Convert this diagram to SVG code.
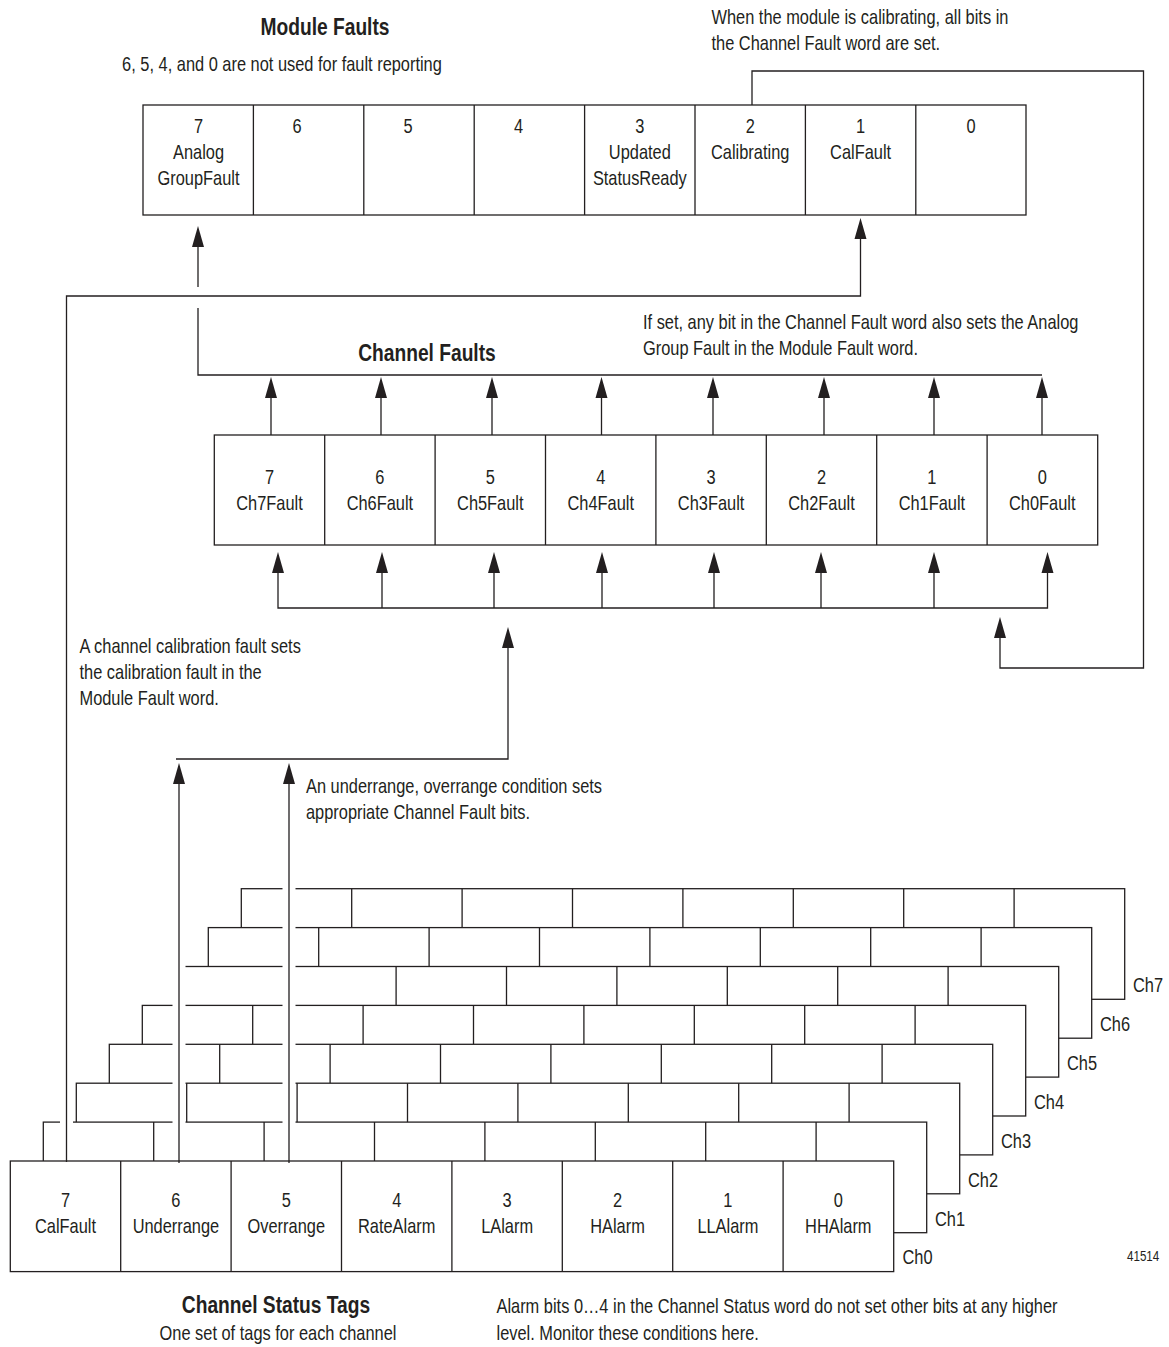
<svg xmlns="http://www.w3.org/2000/svg" xmlns:xlink="http://www.w3.org/1999/xlink" width="1169" height="1347" viewBox="0 0 1169 1347">
<style>
text{font-family:"Liberation Sans",Arial,sans-serif;font-size:20.5px;fill:#231f20}
.c{text-anchor:middle}
.b{font-weight:bold;font-size:24px}
.s{font-size:14.5px}
.box{fill:#fff;stroke:#231f20;stroke-width:1.3}
.dv{stroke:#231f20;stroke-width:1.3}
.ln{fill:none;stroke:#231f20;stroke-width:1.3}
.halo{stroke:#fff;stroke-width:13}
</style>
<defs>
<path id="ah" d="M0,0 L-6,21 L6,21 Z" fill="#231f20"/>
</defs>
<rect width="1169" height="1347" fill="#fff"/>

<!-- Module Faults -->
<g id="module-faults">
<rect class="box" x="143" y="105" width="883" height="110"/>
<path class="dv" d="M253.4,105V215M363.8,105V215M474.2,105V215M584.6,105V215M695,105V215M805.4,105V215M915.8,105V215"/>
<g transform="scale(0.8,1)">
<text class="b c" x="406.25" y="35">Module Faults</text>
<text class="c" x="352.5" y="71">6, 5, 4, and 0 are not used for fault reporting</text>
<text class="c" x="248.125" y="133">7</text><text class="c" x="248.125" y="159">Analog</text><text class="c" x="248.125" y="185">GroupFault</text>
<text class="c" x="371.25" y="133">6</text>
<text class="c" x="510" y="133">5</text>
<text class="c" x="648.125" y="133">4</text>
<text class="c" x="799.75" y="133">3</text><text class="c" x="799.75" y="159">Updated</text><text class="c" x="799.75" y="185">StatusReady</text>
<text class="c" x="937.75" y="133">2</text><text class="c" x="937.75" y="159">Calibrating</text>
<text class="c" x="1075.75" y="133">1</text><text class="c" x="1075.75" y="159">CalFault</text>
<text class="c" x="1213.75" y="133">0</text>
</g>
</g>

<g id="note-calibrating" transform="scale(0.8,1)">
<text x="889.375" y="24">When the module is calibrating, all bits in</text>
<text x="889.375" y="50">the Channel Fault word are set.</text>
</g>

<!-- Channel Faults -->
<g id="channel-faults">
<rect class="box" x="214.3" y="435" width="883.4" height="110"/>
<path class="dv" d="M324.7,435V545M435.1,435V545M545.5,435V545M655.9,435V545M766.3,435V545M876.7,435V545M987.1,435V545"/>
<g transform="scale(0.8,1)">
<text class="b c" x="533.75" y="361">Channel Faults</text>
<text class="c" x="336.875" y="484">7</text><text class="c" x="336.875" y="510">Ch7Fault</text>
<text class="c" x="474.875" y="484">6</text><text class="c" x="474.875" y="510">Ch6Fault</text>
<text class="c" x="612.875" y="484">5</text><text class="c" x="612.875" y="510">Ch5Fault</text>
<text class="c" x="750.875" y="484">4</text><text class="c" x="750.875" y="510">Ch4Fault</text>
<text class="c" x="888.875" y="484">3</text><text class="c" x="888.875" y="510">Ch3Fault</text>
<text class="c" x="1026.875" y="484">2</text><text class="c" x="1026.875" y="510">Ch2Fault</text>
<text class="c" x="1164.875" y="484">1</text><text class="c" x="1164.875" y="510">Ch1Fault</text>
<text class="c" x="1302.875" y="484">0</text><text class="c" x="1302.875" y="510">Ch0Fault</text>
</g>
</g>

<g id="note-analog" transform="scale(0.8,1)">
<text x="803.75" y="329">If set, any bit in the Channel Fault word also sets the Analog</text>
<text x="803.75" y="355">Group Fault in the Module Fault word.</text>
</g>

<g id="note-calfault" transform="scale(0.8,1)">
<text x="99.375" y="653">A channel calibration fault sets</text>
<text x="99.375" y="679">the calibration fault in the</text>
<text x="99.375" y="705">Module Fault word.</text>
</g>

<g id="note-range" transform="scale(0.8,1)">
<text x="382.5" y="793">An underrange, overrange condition sets</text>
<text x="382.5" y="819">appropriate Channel Fault bits.</text>
</g>

<!-- Channel Status stacked layers (Ch7 back to Ch0 front) -->
<g id="channel-status">
<g id="ch7"><rect class="box" x="241.3" y="888.7" width="883.4" height="110.6"/><path class="dv" d="M351.7,888.7v110.6M462.1,888.7v110.6M572.5,888.7v110.6M682.9,888.7v110.6M793.3,888.7v110.6M903.7,888.7v110.6M1014.1,888.7v110.6"/><text transform="scale(0.8,1)" x="1416.25" y="992">Ch7</text></g>
<g id="ch6"><rect class="box" x="208.3" y="927.6" width="883.4" height="110.6"/><path class="dv" d="M318.7,927.6v110.6M429.1,927.6v110.6M539.5,927.6v110.6M649.9,927.6v110.6M760.3,927.6v110.6M870.7,927.6v110.6M981.1,927.6v110.6"/><text transform="scale(0.8,1)" x="1375" y="1031">Ch6</text></g>
<g id="ch5"><rect class="box" x="175.3" y="966.5" width="883.4" height="110.6"/><path class="dv" d="M285.7,966.5v110.6M396.1,966.5v110.6M506.5,966.5v110.6M616.9,966.5v110.6M727.3,966.5v110.6M837.7,966.5v110.6M948.1,966.5v110.6"/><text transform="scale(0.8,1)" x="1333.75" y="1070">Ch5</text></g>
<g id="ch4"><rect class="box" x="142.3" y="1005.4" width="883.4" height="110.6"/><path class="dv" d="M252.7,1005.4v110.6M363.1,1005.4v110.6M473.5,1005.4v110.6M583.9,1005.4v110.6M694.3,1005.4v110.6M804.7,1005.4v110.6M915.1,1005.4v110.6"/><text transform="scale(0.8,1)" x="1292.5" y="1109">Ch4</text></g>
<g id="ch3"><rect class="box" x="109.3" y="1044.3" width="883.4" height="110.6"/><path class="dv" d="M219.7,1044.3v110.6M330.1,1044.3v110.6M440.5,1044.3v110.6M550.9,1044.3v110.6M661.3,1044.3v110.6M771.7,1044.3v110.6M882.1,1044.3v110.6"/><text transform="scale(0.8,1)" x="1251.25" y="1148">Ch3</text></g>
<g id="ch2"><rect class="box" x="76.3" y="1083.2" width="883.4" height="110.6"/><path class="dv" d="M186.7,1083.2v110.6M297.1,1083.2v110.6M407.5,1083.2v110.6M517.9,1083.2v110.6M628.3,1083.2v110.6M738.7,1083.2v110.6M849.1,1083.2v110.6"/><text transform="scale(0.8,1)" x="1210" y="1187">Ch2</text></g>
<g id="ch1"><rect class="box" x="43.3" y="1122.1" width="883.4" height="110.6"/><path class="dv" d="M153.7,1122.1v110.6M264.1,1122.1v110.6M374.5,1122.1v110.6M484.9,1122.1v110.6M595.3,1122.1v110.6M705.7,1122.1v110.6M816.1,1122.1v110.6"/><text transform="scale(0.8,1)" x="1168.75" y="1226">Ch1</text></g>
<!-- connector halos crossing the back layers -->
<path class="halo" d="M66.5,880V1157M179,880V1157M289,880V1157"/>
<g id="ch0"><rect class="box" x="10.3" y="1161" width="883.4" height="110.6"/><path class="dv" d="M120.7,1161v110.6M231.1,1161v110.6M341.5,1161v110.6M451.9,1161v110.6M562.3,1161v110.6M672.7,1161v110.6M783.1,1161v110.6"/>
<g transform="scale(0.8,1)">
<text x="1128.125" y="1264">Ch0</text>
<text class="c" x="81.875" y="1207">7</text><text class="c" x="81.875" y="1233">CalFault</text>
<text class="c" x="219.875" y="1207">6</text><text class="c" x="219.875" y="1233">Underrange</text>
<text class="c" x="357.875" y="1207">5</text><text class="c" x="357.875" y="1233">Overrange</text>
<text class="c" x="495.875" y="1207">4</text><text class="c" x="495.875" y="1233">RateAlarm</text>
<text class="c" x="633.875" y="1207">3</text><text class="c" x="633.875" y="1233">LAlarm</text>
<text class="c" x="771.875" y="1207">2</text><text class="c" x="771.875" y="1233">HAlarm</text>
<text class="c" x="909.875" y="1207">1</text><text class="c" x="909.875" y="1233">LLAlarm</text>
<text class="c" x="1047.875" y="1207">0</text><text class="c" x="1047.875" y="1233">HHAlarm</text>
</g>
</g>
<g transform="scale(0.8,1)">
<text class="b c" x="345" y="1313">Channel Status Tags</text>
<text class="c" x="347.5" y="1340">One set of tags for each channel</text>
</g>
</g>

<g id="note-alarm" transform="scale(0.8,1)">
<text x="620.625" y="1313">Alarm bits 0…4 in the Channel Status word do not set other bits at any higher</text>
<text x="620.625" y="1340">level. Monitor these conditions here.</text>
</g>

<g id="figure-number" transform="scale(0.8,1)"><text class="s" x="1408.75" y="1261">41514</text></g>

<!-- Connectors -->
<g id="connectors">
<polyline class="ln" points="752,105 752,71 1143.5,71 1143.5,668 1000,668 1000,636"/>
<use xlink:href="#ah" x="1000" y="617"/>
<polyline class="ln" points="66.5,1162 66.5,296 860.5,296 860.5,237"/>
<use xlink:href="#ah" x="860.5" y="218"/>
<path class="ln" d="M198,245V287"/>
<polyline class="ln" points="198,308 198,375 1042,375"/>
<use xlink:href="#ah" x="198" y="226"/>
<path class="ln" d="M271,396V435M381,396V435M492,396V435M601.5,396V435M713,396V435M824,396V435M934,396V435M1042,396V435"/>
<use xlink:href="#ah" x="271" y="377"/><use xlink:href="#ah" x="381" y="377"/><use xlink:href="#ah" x="492" y="377"/><use xlink:href="#ah" x="601.5" y="377"/><use xlink:href="#ah" x="713" y="377"/><use xlink:href="#ah" x="824" y="377"/><use xlink:href="#ah" x="934" y="377"/><use xlink:href="#ah" x="1042" y="377"/>
<polyline class="ln" points="278,571 278,608 1047.5,608 1047.5,571"/>
<path class="ln" d="M382,571V608M494,571V608M602,571V608M714,571V608M821,571V608M934,571V608"/>
<use xlink:href="#ah" x="278" y="552"/><use xlink:href="#ah" x="382" y="552"/><use xlink:href="#ah" x="494" y="552"/><use xlink:href="#ah" x="602" y="552"/><use xlink:href="#ah" x="714" y="552"/><use xlink:href="#ah" x="821" y="552"/><use xlink:href="#ah" x="934" y="552"/><use xlink:href="#ah" x="1047.5" y="552"/>
<polyline class="ln" points="176,759 508,759 508,646"/>
<use xlink:href="#ah" x="508" y="627"/>
<path class="ln" d="M179,782V1163M289,782V1163"/>
<use xlink:href="#ah" x="179" y="763"/><use xlink:href="#ah" x="289" y="763"/>
</g>
</svg>
